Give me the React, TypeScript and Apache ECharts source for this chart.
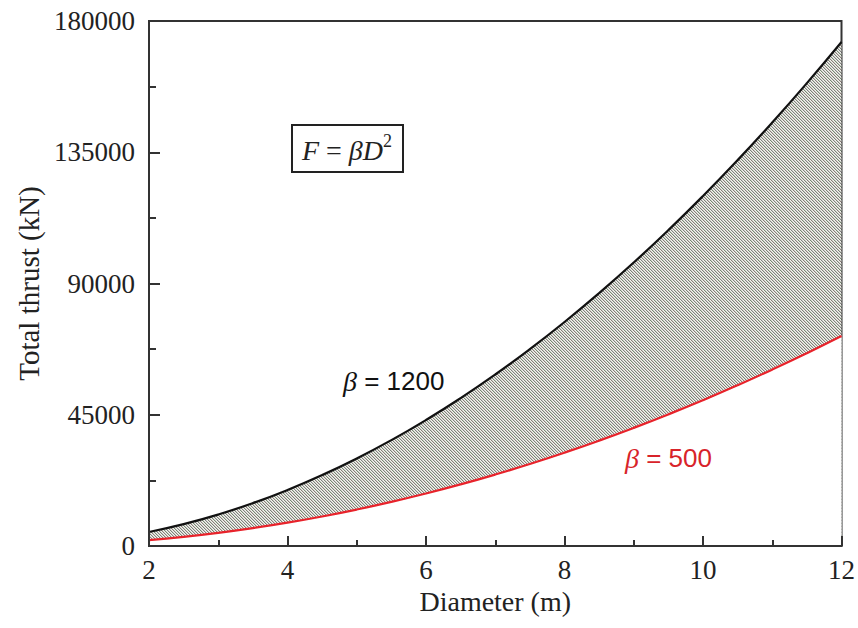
import React, { useEffect, useRef } from "react";
import * as echarts from "echarts";

// Diameter D (m)
const diameters = [2, 2.5, 3, 3.5, 4, 4.5, 5, 5.5, 6, 6.5, 7, 7.5, 8, 8.5, 9, 9.5, 10, 10.5, 11, 11.5, 12];
// Total thrust (kN) for beta = 1200
const thrustBeta1200 = [4800, 7500, 10800, 14700, 19200, 24300, 30000, 36300, 43200, 50700, 58800, 67500, 76800, 86700, 97200, 108300, 120000, 132300, 145200, 158700, 172800];
// Total thrust (kN) for beta = 500
const thrustBeta500 = [2000, 3125, 4500, 6125, 8000, 10125, 12500, 15125, 18000, 21125, 24500, 28125, 32000, 36125, 40500, 45125, 50000, 55125, 60500, 66125, 72000];

const xMin = 2;
const xMax = 12;
const xStep = 2;
const yMin = 0;
const yMax = 180000;
const yStep = 45000;

const xTitle = "Diameter (m)";
const yTitle = "Total thrust (kN)";

function makeHatch(): string {
  const size = 12;
  const c = document.createElement("canvas");
  c.width = size;
  c.height = size;
  const ctx = c.getContext("2d")!;
  const img = ctx.createImageData(size, size);
  const lineCols = [
    [124, 128, 120],
    [138, 126, 122],
    [118, 134, 114],
    [130, 130, 130],
  ];
  for (let y = 0; y < size; y++) {
    for (let x = 0; x < size; x++) {
      const d = (((x - y) % size) + size) % size;
      const m = d % 3;
      let col: number[];
      if (m === 0) col = lineCols[Math.floor(d / 3)];
      else if (m === 1) col = [206, 208, 200];
      else col = [244, 244, 240];
      const i = (y * size + x) * 4;
      img.data[i] = col[0];
      img.data[i + 1] = col[1];
      img.data[i + 2] = col[2];
      img.data[i + 3] = 255;
    }
  }
  ctx.putImageData(img, 0, 0);
  return c.toDataURL();
}

export default function App() {
  const ref = useRef<HTMLDivElement>(null);

  useEffect(() => {
    if (!ref.current) return;
    const chart = echarts.init(ref.current, null, { renderer: "svg" });
    const hatch = makeHatch();

    const upperPairs = diameters.map((d, i) => [d, thrustBeta1200[i]]);
    const lowerPairs = diameters.map((d, i) => [d, thrustBeta500[i]]);

    const serif = "'Liberation Serif', 'DejaVu Serif', serif";
    const sans = "'Liberation Sans', 'DejaVu Sans', sans-serif";

    chart.setOption({
      animation: false,
      backgroundColor: "#ffffff",
      grid: {
        left: 149,
        right: 15,
        top: 21,
        bottom: 82,
        show: true,
        borderColor: "#333333",
        borderWidth: 2,
        backgroundColor: "transparent",
      },
      xAxis: {
        type: "value",
        z: 10,
        min: xMin,
        max: xMax,
        interval: xStep,
        name: xTitle,
        nameLocation: "middle",
        nameGap: 36,
        nameTextStyle: { fontFamily: serif, fontSize: 28, color: "#222" },
        axisLine: { show: true, lineStyle: { color: "#333", width: 2 } },
        axisTick: { show: true, inside: true, length: 10, lineStyle: { color: "#333", width: 2 } },
        minorTick: { show: true, splitNumber: 2, length: 6, lineStyle: { color: "#333", width: 2 } },
        splitLine: { show: false },
        axisLabel: {
          fontFamily: serif,
          fontSize: 27,
          color: "#222",
          margin: 10,
          formatter: (v: number) => String(v),
        },
      },
      yAxis: {
        type: "value",
        z: 10,
        min: yMin,
        max: yMax,
        interval: yStep,
        name: yTitle,
        nameLocation: "middle",
        nameRotate: 90,
        nameGap: 105,
        nameTextStyle: { fontFamily: serif, fontSize: 29, color: "#222" },
        axisLine: { show: true, lineStyle: { color: "#333", width: 2 } },
        axisTick: { show: true, inside: true, length: 11, lineStyle: { color: "#333", width: 2 } },
        minorTick: { show: true, splitNumber: 2, length: 7, lineStyle: { color: "#333", width: 2 } },
        splitLine: { show: false },
        axisLabel: {
          fontFamily: serif,
          fontSize: 27,
          color: "#222",
          margin: 14,
          formatter: (v: number) => String(v),
        },
      },
      series: [
        {
          type: "line",
          name: "hatch-upper",
          data: upperPairs,
          smooth: true,
          symbol: "none",
          silent: true,
          lineStyle: { opacity: 0 },
          areaStyle: {
            opacity: 1,
            origin: "start",
            color: { image: hatch, repeat: "repeat", imageWidth: 12, imageHeight: 12 } as any,
          },
          z: 1,
        },
        {
          type: "line",
          name: "mask-lower",
          data: lowerPairs,
          smooth: true,
          symbol: "none",
          silent: true,
          lineStyle: { opacity: 0 },
          areaStyle: { opacity: 1, origin: "start", color: "#ffffff" },
          z: 2,
        },
        {
          type: "line",
          name: "β = 1200",
          data: upperPairs,
          smooth: true,
          symbol: "none",
          lineStyle: { color: "#111111", width: 2.2 },
          z: 3,
        },
        {
          type: "line",
          name: "β = 500",
          data: lowerPairs,
          smooth: true,
          symbol: "none",
          lineStyle: { color: "#e8232b", width: 2.2 },
          z: 3,
        },
      ],
      graphic: [
        {
          type: "rect",
          shape: { x: 292, y: 125, width: 111, height: 47 },
          style: { fill: "#ffffff", stroke: "#222", lineWidth: 2 },
          z: 10,
        },
        {
          type: "text",
          x: 347,
          y: 150,
          z: 11,
          style: {
            text: "{i|F}{n| = }{i|βD}{s|2}",
            align: "center",
            verticalAlign: "middle",
            rich: {
              i: { fontFamily: serif, fontStyle: "italic", fontSize: 28, fill: "#222" },
              n: { fontFamily: serif, fontSize: 28, fill: "#222" },
              s: { fontFamily: serif, fontSize: 18, fill: "#222", verticalAlign: "top", padding: [0, 0, 18, 0] },
            },
          },
        },
        {
          type: "text",
          x: 343,
          y: 381,
          z: 11,
          style: {
            text: "{b|β}{n| = 1200}",
            align: "left",
            verticalAlign: "middle",
            rich: {
              b: { fontFamily: serif, fontStyle: "italic", fontSize: 28, fill: "#111" },
              n: { fontFamily: sans, fontSize: 26, fill: "#111" },
            },
          },
        },
        {
          type: "text",
          x: 625,
          y: 458,
          z: 11,
          style: {
            text: "{b|β}{n| = 500}",
            align: "left",
            verticalAlign: "middle",
            rich: {
              b: { fontFamily: serif, fontStyle: "italic", fontSize: 28, fill: "#d8232a" },
              n: { fontFamily: sans, fontSize: 26, fill: "#d8232a" },
            },
          },
        },
      ],
    });

    return () => {
      chart.dispose();
    };
  }, []);

  return (
    <div
      ref={ref}
      style={{ position: "fixed", left: 0, top: 0, width: 858, height: 628, background: "#fff" }}
    />
  );
}
